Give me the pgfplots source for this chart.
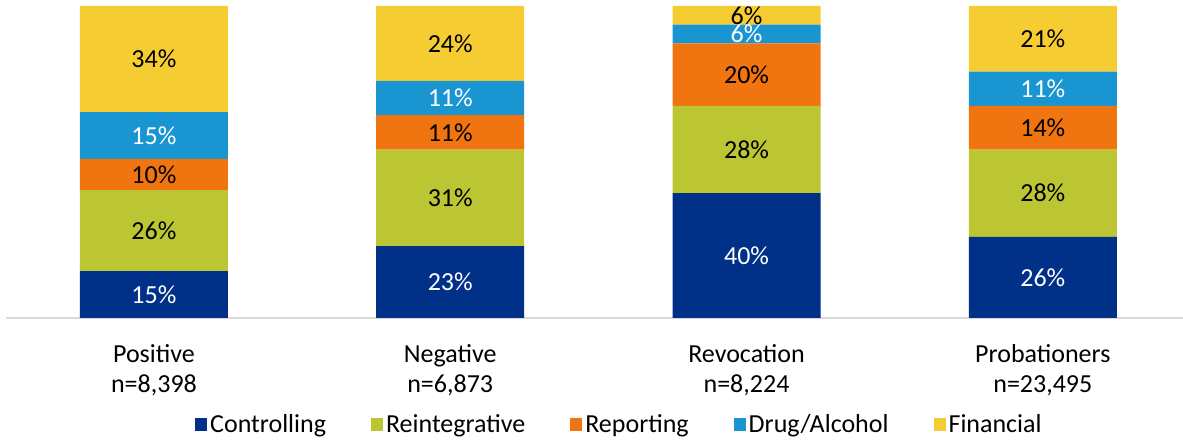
\documentclass[border=0pt]{standalone}
\usepackage{pgfplots}
\pgfplotsset{compat=1.18}
\usepackage{pgfplotstable}
\usepackage{fontspec}
\setmainfont{Carlito}
\definecolor{cblue}{HTML}{003087}
\definecolor{cgreen}{HTML}{BCC532}
\definecolor{corange}{HTML}{F07410}
\definecolor{clight}{HTML}{1996D2}
\definecolor{cyellow}{HTML}{F5CD32}
\definecolor{cgrid}{HTML}{D9D9D9}
\pgfplotstableread{
x ctrl reint rep drug fin
0 15 26 10 15 34
1 23 31 11 11 24
2 40 28 20 6 6
3 26 28 14 11 21
}\data
\begin{document}
\begin{tikzpicture}
\useasboundingbox (0,0) rectangle (1183pt,443pt);
\begin{axis}[
  at={(5.8pt,125pt)}, anchor=south west,
  scale only axis, width=1177.2pt, height=312pt,
  ybar stacked, bar width=148pt,
  xmin=-0.5, xmax=3.473, ymin=0, ymax=100,
  axis x line=bottom, axis y line=none,
  x axis line style={-, draw=cgrid, line width=1.5pt},
  xtick=data, xtick style={draw=none},
  xticklabels={{Positive\\n=8,398},{Negative\\n=6,873},{Revocation\\n=8,224},{Probationers\\n=23,495}},
  xticklabel style={align=center, font=\fontsize{26}{30}\selectfont, anchor=north, inner sep=0pt, yshift=-24pt},
  ytick=\empty,
  clip=false,
  point meta=explicit symbolic,
  nodes near coords={\pgfplotspointmeta\%},
  every node near coord/.append style={anchor=center, font=\fontsize{26}{30}\selectfont},
  legend columns=5,
  legend style={at={(0.5217,-0.34)}, anchor=center, draw=none, fill=none,
    font=\fontsize{26}{30}\selectfont, inner sep=0pt,
    nodes={inner xsep=3pt},
    /tikz/every even column/.append style={column sep=42pt}},
  legend image code/.code={\fill[#1] (0pt,-6.5pt) rectangle (12pt,6.5pt);},
]
\addplot[fill=cblue, draw=none, every node near coord/.append style={text=white}] table[x=x, y=ctrl, meta=ctrl]{\data};
\addplot[fill=cgreen, draw=none, every node near coord/.append style={text=black}] table[x=x, y=reint, meta=reint]{\data};
\addplot[fill=corange, draw=none, every node near coord/.append style={text=black}] table[x=x, y=rep, meta=rep]{\data};
\addplot[fill=clight, draw=none, every node near coord/.append style={text=white}] table[x=x, y=drug, meta=drug]{\data};
\addplot[fill=cyellow, draw=none, every node near coord/.append style={text=black}] table[x=x, y=fin, meta=fin]{\data};
\legend{Controlling, Reintegrative, Reporting, Drug/Alcohol, Financial}
\end{axis}
\end{tikzpicture}
\end{document}
